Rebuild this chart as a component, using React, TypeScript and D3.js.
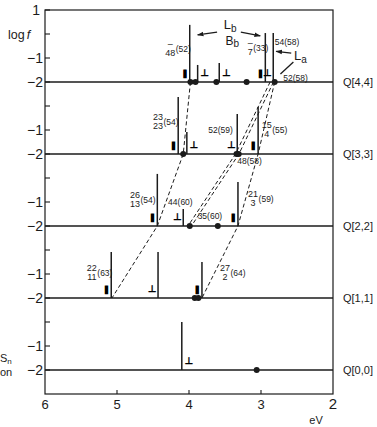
import * as d3 from "d3";

const W = 377;
const H = 427;

// panel names, top to bottom (panel index p: 0 = Q[4,4])
const panelNames = ["Q[4,4]", "Q[3,3]", "Q[2,2]", "Q[1,1]", "Q[0,0]"];
const energyTicks = [6, 5, 4, 3, 2];

// stick lines: energy (eV), log f at the top, polarisation mark and the side it sits on
const sticks = [
  { p: 0, ev: 3.99, f: 0.38, pol: "∥", side: "l" },
  { p: 0, ev: 3.88, f: -1.29, pol: "⊥", side: "r" },
  { p: 0, ev: 3.58, f: -1.21, pol: "⊥", side: "r" },
  { p: 0, ev: 2.94, f: 0.04, pol: "∥", side: "l" },
  { p: 0, ev: 2.83, f: 0.04, pol: "⊥", side: "l" },
  { p: 1, ev: 4.15, f: 0.38, pol: "∥", side: "l" },
  { p: 1, ev: 4.03, f: -1.08, pol: "⊥", side: "r" },
  { p: 1, ev: 3.33, f: -0.33, pol: "⊥", side: "l" },
  { p: 1, ev: 3.04, f: -0.04, pol: "∥", side: "l" },
  { p: 2, ev: 4.44, f: 0.17, pol: "∥", side: "l" },
  { p: 2, ev: 4.08, f: -1.29, pol: "⊥", side: "l" },
  { p: 2, ev: 3.32, f: -0.17, pol: "∥", side: "l" },
  { p: 3, ev: 5.08, f: -0.08, pol: "∥", side: "l" },
  { p: 3, ev: 4.43, f: -0.08, pol: "⊥", side: "l" },
  { p: 3, ev: 3.82, f: -0.5, pol: "∥", side: "l" },
  { p: 4, ev: 4.1, f: 0.0, pol: "⊥", side: "r" },
];

// filled dots on the baselines
const dots = [
  { p: 0, ev: 3.98 },
  { p: 0, ev: 3.91 },
  { p: 0, ev: 3.62 },
  { p: 0, ev: 3.2 },
  { p: 0, ev: 2.81 },
  { p: 1, ev: 4.08 },
  { p: 1, ev: 3.34 },
  { p: 1, ev: 3.31 },
  { p: 2, ev: 3.99 },
  { p: 2, ev: 3.6 },
  { p: 3, ev: 3.92 },
  { p: 3, ev: 3.87 },
  { p: 4, ev: 3.06 },
];

// dashed correlation lines, one energy per panel starting at Q[4,4]
const chains = [
  { ev: [3.98, 4.08, 4.44, 5.07], double: false },
  { ev: [2.85, 3.33, 3.99], double: true },
  { ev: [2.81, 3.04, 3.32, 3.82], double: false },
];

// stacked labels (upper / lower number plus bracket)
const fracLabels = [
  { p: 0, ev: 4.26, f: -0.58, top: "–", bot: "48", paren: "(52)" },
  { p: 0, ev: 3.15, f: -0.54, top: "–", bot: "7", paren: "(33)" },
  { p: 1, ev: 4.43, f: -0.63, top: "23", bot: "23", paren: "(54)" },
  { p: 1, ev: 2.92, f: -0.96, top: "15", bot: "4", paren: "(55)" },
  { p: 2, ev: 4.75, f: -0.88, top: "26", bot: "13", paren: "(54)" },
  { p: 2, ev: 3.11, f: -0.83, top: "21", bot: "3", paren: "(59)" },
  { p: 3, ev: 5.35, f: -0.92, top: "22", bot: "11", paren: "(63)" },
  { p: 3, ev: 3.5, f: -0.92, top: "27", bot: "2", paren: "(64)" },
];

const stateLabels = [
  { p: 0, ev: 2.81, f: -0.33, text: "54(58)", anchor: "start" },
  { p: 0, ev: 2.69, f: -1.83, text: "52(58)", anchor: "start" },
  { p: 1, ev: 3.39, f: -1.0, text: "52(59)", anchor: "end" },
  { p: 1, ev: 3.33, f: -2.29, text: "48(58)", anchor: "start" },
  { p: 2, ev: 4.29, f: -1.0, text: "44(60)", anchor: "start" },
  { p: 2, ev: 3.88, f: -1.58, text: "35(60)", anchor: "start" },
];

// L_b / B_b / L_a annotations in the Q[4,4] panel
const arrows = [
  { from: [3.61, 0.08], to: [3.88, -0.04], head: true },
  { from: [3.28, 0.08], to: [3.01, -0.08], head: true },
  { from: [2.58, -0.8], to: [2.79, -0.72], head: true },
  { from: [2.55, -1.17], to: [2.73, -1.67], head: false },
];

const x = d3.scaleLinear().domain([6, 2]).range([45, 333]);
const y = d3.scaleLinear().domain([1, -15]).range([10, 394]);
const py = (p: number, f: number) => y(f - 3 * p);
const BASE = -2;

const ink = "#1b1b1b";
const font = "'Liberation Sans', Arial, sans-serif";
const symFont = "'DejaVu Sans', sans-serif";

function tickLabel(g: number) {
  if (g === 1) return "1";
  const r = ((g % 3) + 3) % 3;
  return r === 2 ? "−1" : r === 1 ? "−2" : "";
}

export default function App() {
  const leftTicks = d3.range(1, -15, -1);
  const line = d3.line<[number, number]>();

  return (
    <svg
      width={W}
      height={H}
      style={{ position: "absolute", left: 0, top: 0, background: "#fff" }}
      fontFamily={font}
    >
      <defs>
        <marker id="ah" viewBox="0 0 10 10" refX="9" refY="5" markerWidth="5" markerHeight="5" orient="auto">
          <path d="M0,1.5 L10,5 L0,8.5 Z" fill={ink} />
        </marker>
      </defs>

      {/* frame */}
      <rect x={x(6)} y={y(1)} width={x(2) - x(6)} height={y(-15) - y(1)} fill="none" stroke={ink} strokeWidth={1.2} />

      {/* left axis ticks */}
      {leftTicks.map((g) => (
        <g key={g}>
          <line x1={x(6)} x2={x(6) + 5} y1={y(g)} y2={y(g)} stroke={ink} strokeWidth={1.1} />
          <text x={g === 1 ? 40 : 43} y={y(g) + 5} fontSize={14} textAnchor="end" fill={ink}>
            {tickLabel(g)}
          </text>
        </g>
      ))}
      <text x={8} y={39} fontSize={12.5} fill={ink}>
        log<tspan fontStyle="italic" dx={2}>f</tspan>
      </text>

      {/* bottom ticks */}
      {energyTicks.map((e) => (
        <g key={e}>
          {e !== 6 && e !== 2 && (
            <line x1={x(e)} x2={x(e)} y1={y(-15)} y2={y(-15) - 4} stroke={ink} strokeWidth={1.1} />
          )}
          <text x={x(e)} y={409} fontSize={e === 2 ? 15 : 13} textAnchor="middle" fill={ink}>
            {e}
          </text>
        </g>
      ))}
      <text x={316} y={424} fontSize={11} textAnchor="middle" fill={ink}>
        eV
      </text>

      {/* text cut by the left edge */}
      <text x={0} y={362} fontSize={11} fill={ink}>
        S<tspan fontSize={8} dy={2}>n</tspan>
      </text>
      <text x={0} y={376} fontSize={11} fill={ink}>
        on
      </text>

      {/* baselines and panel names */}
      {panelNames.map((name, p) => (
        <g key={name}>
          <line x1={x(6)} x2={x(2)} y1={py(p, BASE)} y2={py(p, BASE)} stroke={ink} strokeWidth={1.5} />
          <text x={343} y={py(p, BASE) + 4} fontSize={11} fill={ink}>
            {name}
          </text>
        </g>
      ))}

      {/* dashed correlation lines */}
      {chains.map((c, i) => {
        const pts = c.ev.map((e, p) => [x(e), py(p, BASE)] as [number, number]);
        const offs = c.double ? [-1.7, 1.7] : [0];
        return offs.map((o) => (
          <path
            key={`${i}-${o}`}
            d={line(pts.map(([a, b]) => [a + o, b] as [number, number])) ?? ""}
            fill="none"
            stroke={ink}
            strokeWidth={1}
            strokeDasharray="4 2.6"
          />
        ));
      })}

      {/* sticks */}
      {sticks.map((s, i) => {
        const sx = x(s.ev);
        const par = s.pol === "∥";
        const dx = s.side === "r" ? 7 : par ? -5 : -6;
        return (
          <g key={i}>
            <line x1={sx} x2={sx} y1={py(s.p, BASE)} y2={py(s.p, s.f)} stroke={ink} strokeWidth={1.5} />
            <text
              x={sx + dx}
              y={py(s.p, BASE) - (par ? 6.5 : 6)}
              fontSize={par ? 8 : 9.5}
              fontWeight="bold"
              fontFamily={symFont}
              textAnchor="middle"
              fill="#000"
              stroke="#000"
              strokeWidth={par ? 0.9 : 0.25}
            >
              {s.pol}
            </text>
          </g>
        );
      })}

      {/* dots */}
      {dots.map((d, i) => (
        <circle key={i} cx={x(d.ev)} cy={py(d.p, BASE)} r={3} fill={ink} />
      ))}

      {/* stacked labels */}
      {fracLabels.map((l, i) => {
        const cx = x(l.ev);
        const cy = py(l.p, l.f);
        const hw = Math.max(l.top.length, l.bot.length) * 2.5;
        return (
          <g key={i} fontSize={9} fill={ink}>
            <text x={cx} y={cy - 1.3} textAnchor="middle">
              {l.top}
            </text>
            <text x={cx} y={cy + 7.7} textAnchor="middle">
              {l.bot}
            </text>
            <text x={cx + hw + 0.5} y={cy + 4} fontSize={8.5}>
              {l.paren}
            </text>
          </g>
        );
      })}

      {/* state labels */}
      {stateLabels.map((l, i) => (
        <text
          key={i}
          x={x(l.ev)}
          y={py(l.p, l.f) + 3}
          fontSize={8.5}
          textAnchor={l.anchor as "start" | "end"}
          fill={ink}
        >
          {l.text}
        </text>
      ))}

      {/* L_b, B_b, L_a */}
      <text x={x(3.43)} y={py(0, 0.42) + 5} fontSize={13} textAnchor="middle" fill={ink}>
        L<tspan fontSize={10} dy={3}>b</tspan>
      </text>
      <text x={x(3.4)} y={py(0, -0.29) + 4} fontSize={12} textAnchor="middle" fill={ink}>
        B<tspan fontSize={10} dy={2}>b</tspan>
      </text>
      <text x={x(2.54)} y={py(0, -0.92) + 4} fontSize={13} fill={ink}>
        L<tspan fontSize={10} dy={3}>a</tspan>
      </text>
      {arrows.map((a, i) => (
        <line
          key={i}
          x1={x(a.from[0])}
          y1={py(0, a.from[1])}
          x2={x(a.to[0])}
          y2={py(0, a.to[1])}
          stroke={ink}
          strokeWidth={1.3}
          markerEnd={a.head ? "url(#ah)" : undefined}
        />
      ))}
    </svg>
  );
}
